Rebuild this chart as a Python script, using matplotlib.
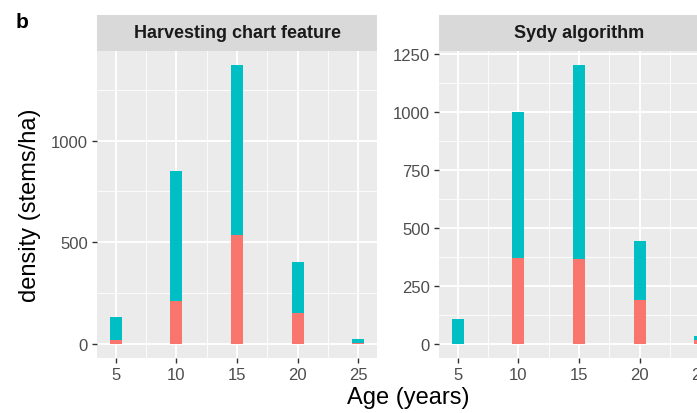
import matplotlib.pyplot as plt
from matplotlib.ticker import MultipleLocator

plt.rcParams['font.family'] = ['Liberation Sans', 'DejaVu Sans']

ages = [5, 10, 15, 20, 25]

# stacked stem density per age class (lower red part, upper teal part)
harvest_red = [21, 213, 538, 151, 6]
harvest_teal = [110, 636, 834, 252, 19]
sydy_red = [0, 371, 367, 189, 17]
sydy_teal = [107, 631, 836, 255, 16]

panel_titles = ["Harvesting chart feature", "Sydy algorithm"]

RED = "#F8766D"
TEAL = "#00BFC4"
PANEL_BG = "#EBEBEB"
STRIP_BG = "#D9D9D9"

fig = plt.figure(figsize=(6.97, 4.14), dpi=100)

W, H = 697, 414


def place(x0, y0, x1, y1):
    # pixel box -> figure fraction
    return [x0 / W, 1 - y1 / H, (x1 - x0) / W, (y1 - y0) / H]


def facet(box, strip_box, red, teal, title, major, minor):
    ax = fig.add_axes(place(*box))
    ax.set_facecolor(PANEL_BG)
    ax.bar(ages, red, width=1.0, color=RED, zorder=3)
    ax.bar(ages, teal, width=1.0, bottom=red, color=TEAL, zorder=3)

    totals = [r + t for r, t in zip(red, teal)]
    top = max(totals)
    pad_y = top * 0.05
    ax.set_ylim(-pad_y, top + pad_y)
    span = (ages[-1] + 0.5) - (ages[0] - 0.5)
    ax.set_xlim(ages[0] - 0.5 - span * 0.05, ages[-1] + 0.5 + span * 0.05)

    ax.set_xticks(ages)
    ax.xaxis.set_minor_locator(MultipleLocator(5))
    ax.set_xticks([7.5, 12.5, 17.5, 22.5], minor=True)
    ax.yaxis.set_major_locator(MultipleLocator(major))
    ax.yaxis.set_minor_locator(MultipleLocator(minor))

    ax.grid(which="major", color="white", linewidth=1.3, zorder=0)
    ax.grid(which="minor", color="white", linewidth=0.6, zorder=0)
    ax.set_axisbelow(True)
    for s in ax.spines.values():
        s.set_visible(False)
    ax.tick_params(which="major", length=3.5, width=1.0, color="#333333",
                   labelsize=12, labelcolor="#4D4D4D", pad=3)
    ax.tick_params(which="minor", length=0)

    sax = fig.add_axes(place(*strip_box))
    sax.set_facecolor(STRIP_BG)
    sax.set_xticks([])
    sax.set_yticks([])
    for s in sax.spines.values():
        s.set_visible(False)
    sax.text(0.5, 0.5, title, ha="center", va="center", fontsize=13,
             fontweight="bold", color="#1A1A1A", transform=sax.transAxes)
    return ax


ax1 = facet((97, 52, 377, 359), (97, 16, 377, 52),
            harvest_red, harvest_teal, panel_titles[0], 500, 250)
ax2 = facet((439, 52, 719, 359), (439, 16, 719, 52),
            sydy_red, sydy_teal, panel_titles[1], 250, 125)
ax1.set_ylim(-68.6, 1440)

fig.text(30 / W, 1 - 205 / H, "density (stems/ha)", rotation=90,
         ha="center", va="center", fontsize=17)
fig.text(408 / W, 1 - 398 / H, "Age (years)", ha="center", va="center",
         fontsize=17)
fig.text(16 / W, 1 - 22 / H, "b", ha="left", va="center", fontsize=15,
         fontweight="bold")

fig.savefig("out.png", dpi=100)
